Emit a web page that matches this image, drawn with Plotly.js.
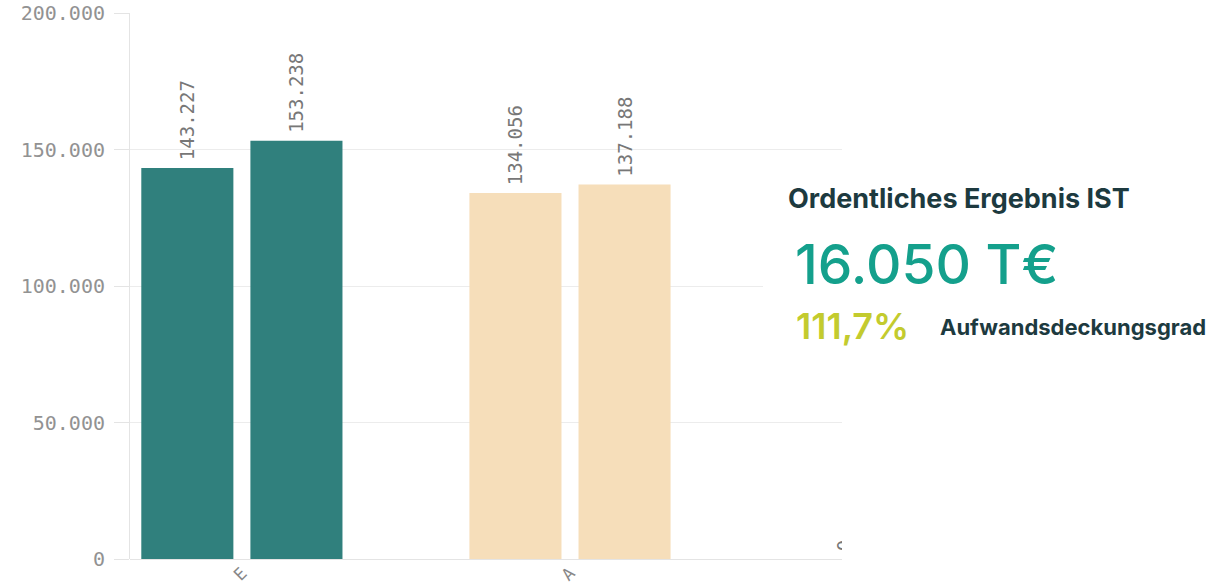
<!DOCTYPE html>
<html>
<head>
<meta charset="utf-8">
<script src="https://cdn.plot.ly/plotly-3.0.1.min.js"></script>
<style>html,body{margin:0;padding:0;background:#fff;}#chart{width:1208px;height:587px;}</style>
</head>
<body>
<div id="chart"></div>
<script>
// Data
const categories = ["E", "A", "O"];
const seriesPlan = [143227, 134056, 0];
const seriesIst = [153238, 137188, 0];
const barColors = ["#30807D", "#F6DEBA", "#30807D"];
const yTicks = [0, 50000, 100000, 150000, 200000];
const kpiTitle = "Ordentliches Ergebnis IST";
const kpiValue = "16.050 T€";
const kpiRate = "111,7%";
const kpiRateLabel = "Aufwandsdeckungsgrad";

const W = 1208, H = 587;
const L = 130, R = 842, T = 13, B = 559;
const pw = R - L, ph = B - T;
const px = x => (x - L) / pw;
const py = y => (B - y) / ph;

const labelFont = {family: "DejaVu Sans Mono, monospace", size: 19, color: "#777"};

function barTrace(vals) {
  return {
    type: "bar",
    x: categories,
    y: vals,
    marker: {color: barColors},
    texttemplate: "<span style=\"font-size:8px\"> </span>%{y:,}",
    textposition: "outside",
    textangle: -90,
    outsidetextfont: labelFont,
    cliponaxis: true,
    hoverinfo: "skip",
    showlegend: false
  };
}

const data = [barTrace(seriesPlan), barTrace(seriesIst)];

const layout = {
  width: W, height: H,
  margin: {l: L, r: W - R, t: T, b: H - B, pad: 0},
  paper_bgcolor: "#fff",
  plot_bgcolor: "#fff",
  separators: ",.",
  barmode: "group",
  bargap: 0.335,
  bargroupgap: 0.156,
  showlegend: false,
  xaxis: {
    range: [-0.341, 1.829],
    tickangle: -45,
    tickfont: {family: "DejaVu Sans Mono, monospace", size: 17, color: "#888"},
    showgrid: false,
    zeroline: false,
    showline: false,
    ticks: "",
    ticklabelstandoff: 0,
    fixedrange: true,
    automargin: false
  },
  yaxis: {
    range: [0, 200000],
    tickvals: yTicks,
    tickformat: ",",
    tickfont: {family: "DejaVu Sans Mono, monospace", size: 20, color: "#929292"},
    showgrid: true,
    gridcolor: "#ececec",
    gridwidth: 1,
    zeroline: true,
    zerolinecolor: "#e4e4e4",
    showline: true,
    linecolor: "#e4e4e4",
    ticks: "outside",
    ticklen: 15,
    tickcolor: "#e4e4e4",
    ticklabelstandoff: 5,
    fixedrange: true,
    automargin: false
  },
  shapes: [
    {type: "rect", xref: "paper", yref: "paper", x0: px(763), x1: px(R + 2), y0: py(360), y1: py(170),
     fillcolor: "#fff", line: {width: 0}, layer: "above"}
  ],
  annotations: [
    {xref: "paper", yref: "paper", x: px(786), y: py(198), xanchor: "left", yanchor: "middle",
     text: "<b>" + kpiTitle + "</b>", showarrow: false,
     font: {family: "Inter, Lato, sans-serif", size: 27, color: "#1d3a3f"}},
    {xref: "paper", yref: "paper", x: px(793), y: py(264), xanchor: "left", yanchor: "middle",
     text: kpiValue, showarrow: false,
     font: {family: "Inter, Lato, sans-serif", size: 55, weight: 500, color: "#14A08C"}},
    {xref: "paper", yref: "paper", x: px(794), y: py(326), xanchor: "left", yanchor: "middle",
     text: kpiRate, showarrow: false,
     font: {family: "Inter, Lato, sans-serif", size: 36, weight: 600, color: "#C3CB2E"}},
    {xref: "paper", yref: "paper", x: px(938), y: py(327), xanchor: "left", yanchor: "middle",
     text: "<b>" + kpiRateLabel + "</b>", showarrow: false,
     font: {family: "Inter, Lato, sans-serif", size: 22, color: "#1d3a3f"}}
  ]
};

Plotly.newPlot("chart", data, layout, {staticPlot: true, displayModeBar: false});
</script>
</body>
</html>
